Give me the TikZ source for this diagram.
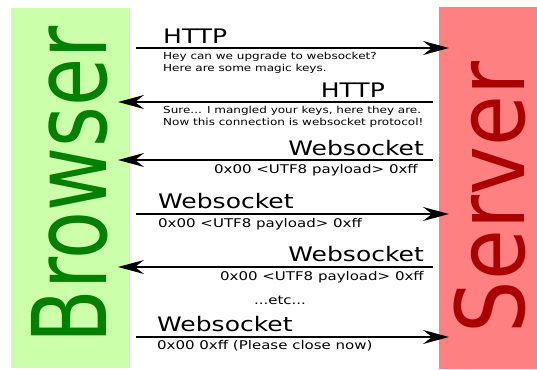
\documentclass[tikz,border=0pt]{standalone}
\usepackage{fontspec}
\setmainfont{DejaVu Sans}[FakeStretch=1.25]
\newfontfamily\browserfont{DejaVu Sans}[FakeStretch=0.76]
\newfontfamily\serverfont{DejaVu Sans}[FakeStretch=0.87]
\usepackage{tikz}
\usetikzlibrary{arrows.meta,positioning}
\definecolor{browserfill}{RGB}{204,255,170}
\definecolor{browsertext}{RGB}{0,128,0}
\definecolor{serverfill}{RGB}{255,128,128}
\definecolor{servertext}{RGB}{170,0,0}

\begin{document}
\begin{tikzpicture}[
        x=1pt, y=1pt,
        column/.style={inner sep=0, outer sep=0},
        side/.style={rotate=90, inner sep=0},
        proto/.style={inner sep=0, font=\fontsize{20}{24}\selectfont},
        payload/.style={inner sep=0, font=\fontsize{12}{14}\selectfont},
        note/.style={inner sep=0, align=left, font=\fontsize{9.6}{11.5}\selectfont},
        msg/.style={-{Stealth[length=26pt, width=14pt, inset=9pt]}, line width=1.5pt}
    ]
        \useasboundingbox (0,0) rectangle (537,369);

        \node[column, fill=browserfill, minimum width=119pt, minimum height=360pt] (browser) at (70.5,181) {};
        \node[column, fill=serverfill, minimum width=98pt, minimum height=362pt] (server) at (488,181) {};
        \node[side, text=browsertext, font=\browserfont\fontsize{103}{103}\selectfont] (browserlabel) at (69.5,184) {Browser};
        \node[side, text=servertext, font=\serverfont\fontsize{95}{95}\selectfont] (serverlabel) at (489.5,171.5) {Server};

        % end points of the messages
        \coordinate (m1a) at (136,321); \coordinate (m1b) at (449,321);
        \coordinate (m2a) at (433,267); \coordinate (m2b) at (118,267);
        \coordinate (m3a) at (433,209); \coordinate (m3b) at (118,209);
        \coordinate (m4a) at (136,155); \coordinate (m4b) at (449,155);
        \coordinate (m5a) at (433,102); \coordinate (m5b) at (118,102);
        \coordinate (m6a) at (136,32);  \coordinate (m6b) at (449,32);

        \draw[msg] (m1a) -- (m1b);
        \draw[msg] (m2a) -- (m2b);
        \draw[msg] (m3a) -- (m3b);
        \draw[msg] (m4a) -- (m4b);
        \draw[msg] (m5a) -- (m5b);
        \draw[msg] (m6a) -- (m6b);

        \node[proto, above right=4pt and 27pt of m1a] (req) {HTTP};
        \node[note, below right=4.5pt and 27pt of m1a] (reqnote) {Hey can we upgrade to websocket?\\Here are some magic keys.};
        \node[proto, above left=4pt and 48pt of m2a] (resp) {HTTP};
        \node[note, below right=4.5pt and 45pt of m2b] (respnote) {Sure... I mangled your keys, here they are.\\Now this connection is websocket protocol!};
        \node[proto, above left=4pt and 9pt of m3a] (ws1) {Websocket};
        \node[payload, below left=4pt and 15pt of m3a] (ws1data) {0x00 <UTF8 payload> 0xff};
        \node[proto, above right=5pt and 22pt of m4a] (ws2) {Websocket};
        \node[payload, below right=4pt and 22pt of m4a] (ws2data) {0x00 <UTF8 payload> 0xff};
        \node[proto, above left=5pt and 9pt of m5a] (ws3) {Websocket};
        \node[payload, below left=4pt and 9pt of m5a] (ws3data) {0x00 <UTF8 payload> 0xff};
        \node[payload, anchor=base] (etc) at (280,64) {...etc...};
        \node[proto, above right=5pt and 21pt of m6a] (ws4) {Websocket};
        \node[payload, below right=3.5pt and 21pt of m6a] (ws4data) {0x00 0xff (Please close now)};
    \end{tikzpicture}
\end{document}
